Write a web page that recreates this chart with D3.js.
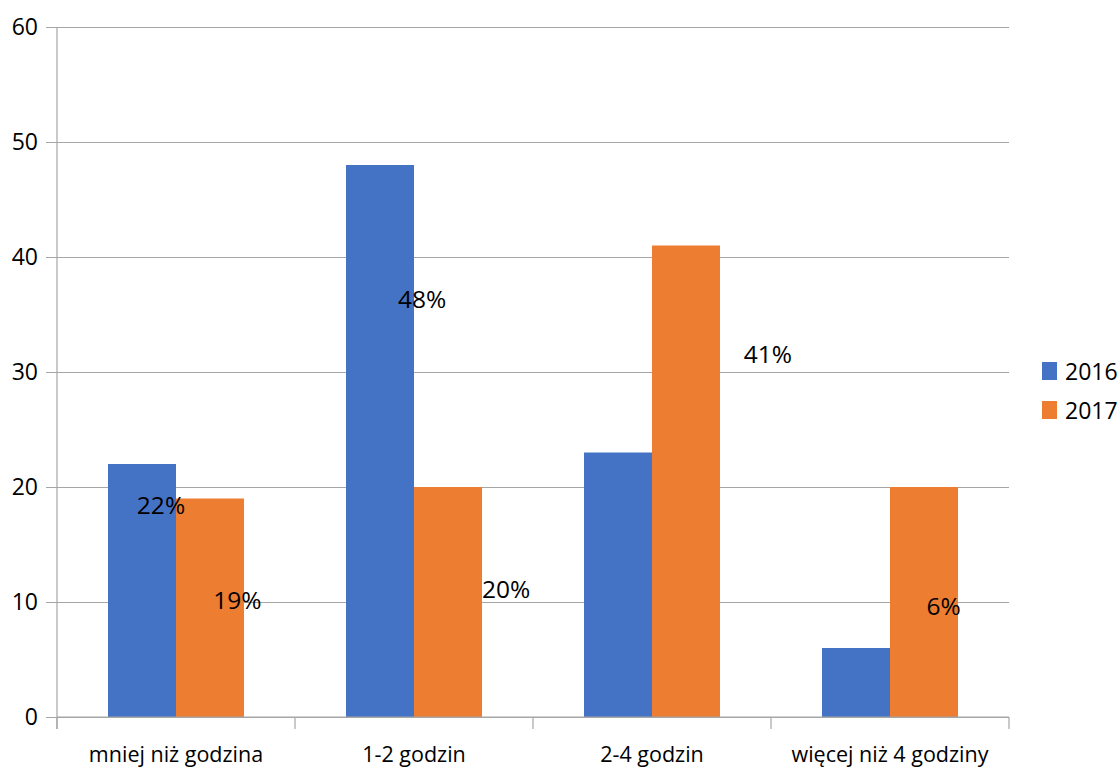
<!DOCTYPE html>
<html>
<head>
<meta charset="utf-8">
<script src="https://cdn.jsdelivr.net/npm/d3@7"></script>
<style>
html,body{margin:0;padding:0;background:#fff;}
svg{display:block;font-family:"Open Sans","Noto Sans",sans-serif;}
</style>
</head>
<body>
<svg id="chart" width="1120" height="769"></svg>
<script>
const categories = ["mniej niż godzina", "1-2 godzin", "2-4 godzin", "więcej niż 4 godziny"];
const seriesNames = ["2016", "2017"];
const values2016 = [22, 48, 23, 6];
const values2017 = [19, 20, 41, 20];
const yTicks = [0, 10, 20, 30, 40, 50, 60];
const colors = ["#4472C4", "#ED7D31"];
// free-floating percentage labels as in the original: text, category, fraction across category, value height
const labelTexts = ["22%", "19%", "48%", "20%", "41%", "6%"];
const labelCats = [0, 0, 1, 1, 2, 3];
const labelFrac = [0.437, 0.758, 0.534, 0.887, 0.987, 0.725];
const labelVals = [17.65, 9.39, 35.57, 10.35, 30.78, 8.87];

const svg = d3.select("#chart");
const M = {left: 57, right: 1009, top: 27, bottom: 717};

const x = d3.scaleBand().domain(categories).range([M.left, M.right]).padding(0);
const xs = d3.scaleBand().domain(seriesNames).range([51, x.bandwidth() - 51]).padding(0);
const y = d3.scaleLinear().domain([0, 60]).range([M.bottom, M.top]);

// gridlines (with outward ticks)
svg.append("g").attr("class", "grid")
  .attr("transform", `translate(${M.left},0)`)
  .call(d3.axisLeft(y).tickValues(yTicks).tickSize(-(M.right - M.left)).tickFormat(""))
  .call(g => g.select(".domain").remove())
  .call(g => g.selectAll("line").attr("stroke", "#a6a6a6").attr("stroke-width", 1.2).attr("x1", -11));

// y tick labels
svg.append("g").selectAll("text").data(yTicks).join("text")
  .attr("x", 38).attr("y", d => y(d)).attr("dy", "0.36em")
  .attr("text-anchor", "end").attr("font-size", 23).attr("fill", "#000")
  .text(d => d);

// bars
const series = [values2016, values2017];
series.forEach((vals, si) => {
  svg.append("g").selectAll("rect").data(vals).join("rect")
    .attr("x", (d, i) => x(categories[i]) + xs(seriesNames[si]))
    .attr("width", xs.bandwidth())
    .attr("y", d => y(d))
    .attr("height", d => y(0) - y(d))
    .attr("fill", colors[si]);
});

// vertical axis line
svg.append("line").attr("x1", M.left).attr("x2", M.left).attr("y1", M.top).attr("y2", M.bottom + 12)
  .attr("stroke", "#a6a6a6").attr("stroke-width", 1.2);
// x axis line redraw on top
svg.append("line").attr("x1", M.left).attr("x2", M.right).attr("y1", y(0)).attr("y2", y(0))
  .attr("stroke", "#a6a6a6").attr("stroke-width", 1.2);
// category boundary ticks
const bounds = categories.map(c => x(c)).concat([M.right]);
svg.append("g").selectAll("line").data(bounds).join("line")
  .attr("x1", d => d).attr("x2", d => d).attr("y1", y(0)).attr("y2", y(0) + 12)
  .attr("stroke", "#a6a6a6").attr("stroke-width", 1.2);

// x labels
svg.append("g").selectAll("text").data(categories).join("text")
  .attr("x", d => x(d) + x.bandwidth() / 2).attr("y", 762)
  .attr("text-anchor", "middle").attr("font-size", 21.5).attr("fill", "#000")
  .text(d => d);

// percentage labels
svg.append("g").selectAll("text").data(labelTexts).join("text")
  .attr("x", (d, i) => x(categories[labelCats[i]]) + labelFrac[i] * x.bandwidth())
  .attr("y", (d, i) => y(labelVals[i]))
  .attr("text-anchor", "middle").attr("font-size", 24.5).attr("fill", "#000")
  .text(d => d);

// legend
const lg = svg.append("g").selectAll("g").data(seriesNames).join("g")
  .attr("transform", (d, i) => `translate(1042,${362 + i * 39})`);
lg.append("rect").attr("width", 15).attr("height", 18).attr("fill", (d, i) => colors[i]);
lg.append("text").attr("x", 23).attr("y", 18).attr("font-size", 23).attr("fill", "#000").text(d => d);
</script>
</body>
</html>
